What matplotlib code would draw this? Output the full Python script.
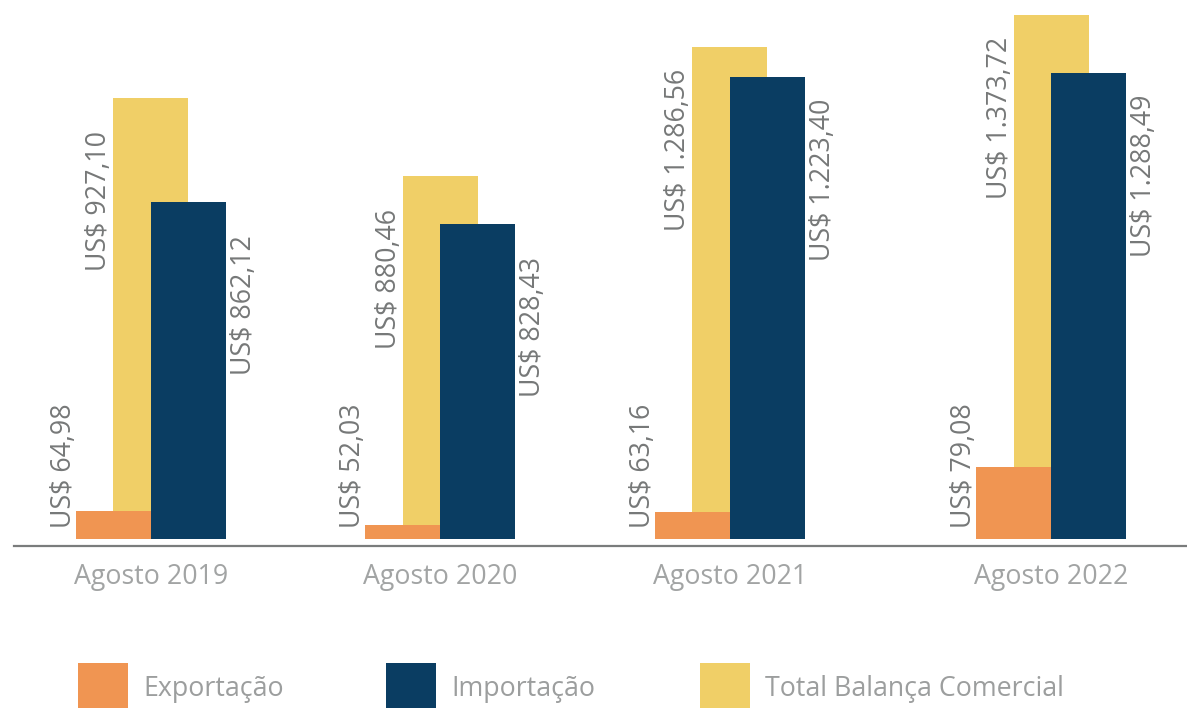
import matplotlib
matplotlib.use("Agg")
import matplotlib.pyplot as plt
from matplotlib.patches import Rectangle

# ---------------- data ----------------
categories = ["Agosto 2019", "Agosto 2020", "Agosto 2021", "Agosto 2022"]
series_names = ["Exportação", "Importação", "Total Balança Comercial"]

# values printed on the bars (US$)
export_labels = ["US$ 64,98", "US$ 52,03", "US$ 63,16", "US$ 79,08"]
import_labels = ["US$ 862,12", "US$ 828,43", "US$ 1.223,40", "US$ 1.288,49"]
total_labels = ["US$ 927,10", "US$ 880,46", "US$ 1.286,56", "US$ 1.373,72"]

# drawn bar heights (chart's own, non-proportional scale)
export_height = [28, 14, 27, 72]
import_height = [337, 315, 462, 466]
total_height = [441, 363, 492, 524]

# ---------------- style ----------------
C_EXP = "#F09552"
C_IMP = "#0A3D62"
C_TOT = "#F0CF67"
C_VAL = "#767878"
C_CAT = "#A2A4A4"
C_LEG = "#9C9E9E"
FONT = "Open Sans"
FS = 19.3

W, H = 1187, 708
fig = plt.figure(figsize=(W / 100, H / 100), dpi=100)
fig.patch.set_facecolor("white")

# axes: bars' base at y=539 px, left at x=14 px
ax = fig.add_axes([14 / W, (H - 539) / H, (W - 14) / W, 539 / H])
ax.set_facecolor("none")

group_pos = [0, 1, 2, 3.11]      # layout of the groups along the axis
bw = 0.259                       # bar width in axis units
ax.set_xlim(-0.473, 3.579)
ax.set_ylim(0, 539)

for i, g in enumerate(group_pos):
    ax.bar(g, total_height[i], width=bw, color=C_TOT, zorder=1, linewidth=0)
    ax.bar(g - bw / 2, export_height[i], width=bw, color=C_EXP, zorder=2, linewidth=0)
    ax.bar(g + bw / 2, import_height[i], width=bw, color=C_IMP, zorder=2, linewidth=0)

    kw = dict(rotation=90, va="center", color=C_VAL, fontsize=FS,
              family=FONT, textcoords="offset pixels", annotation_clip=False)
    # total label: left of the total bar, centred 103 px below its top
    ax.annotate(total_labels[i], xy=(g - bw / 2, total_height[i]),
                xytext=(0, -103), ha="right", **kw)
    # import label: right of the import bar
    ax.annotate(import_labels[i], xy=(g + bw, import_height[i]),
                xytext=(4, -103), ha="left", **kw)
    # export label: left of the export bar, fixed height above base
    ax.annotate(export_labels[i], xy=(g - bw, 0),
                xytext=(2, 73), ha="right", **kw)

for s in ["top", "left", "right"]:
    ax.spines[s].set_visible(False)
ax.spines["bottom"].set_position(("outward", 5.0))
ax.spines["bottom"].set_color("#7A7C7C")
ax.spines["bottom"].set_linewidth(1.6)
ax.set_yticks([])
ax.set_xticks(group_pos)
ax.set_xticklabels(categories, fontsize=FS, family=FONT, color=C_CAT)
ax.tick_params(axis="x", length=0, pad=12.5)

# legend (manual, pixel-placed)
leg_patch_x = [78, 386, 700]
leg_colors = [C_EXP, C_IMP, C_TOT]
for x0, col, name in zip(leg_patch_x, leg_colors, series_names):
    fig.add_artist(Rectangle((x0 / W, (H - 713) / H), 50 / W, 50 / H,
                             transform=fig.transFigure, color=col, linewidth=0))
    fig.text((x0 + 65) / W, (H - 689) / H, name, fontsize=FS, family=FONT,
             color=C_LEG, ha="left", va="center")

fig.savefig("out.png", dpi=100, facecolor="white")
